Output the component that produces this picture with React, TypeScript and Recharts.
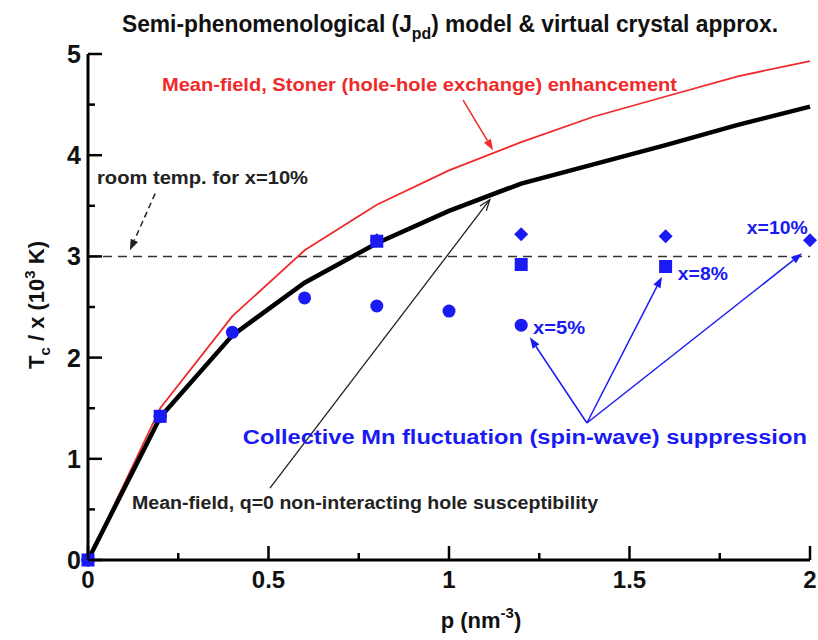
import { ScatterChart, Scatter, XAxis, YAxis, ReferenceLine, ReferenceDot } from "recharts";

// p grid for the two mean-field curves (nm^-3)
const P_GRID = [0, 0.2, 0.4, 0.6, 0.8, 1.0, 1.2, 1.4, 1.6, 1.8, 2.0];
const MEAN_FIELD = [0, 1.41, 2.22, 2.74, 3.13, 3.45, 3.72, 3.91, 4.1, 4.3, 4.48];
const STONER = [0, 1.5, 2.41, 3.06, 3.51, 3.85, 4.13, 4.38, 4.58, 4.78, 4.93];

// spin-wave suppressed points
const X5_P = [0, 0.2, 0.4, 0.6, 0.8, 1.0, 1.2];
const X5_TC = [0, 1.42, 2.25, 2.59, 2.51, 2.46, 2.32];
const X8_P = [0, 0.2, 0.8, 1.2, 1.6];
const X8_TC = [0, 1.42, 3.15, 2.92, 2.9];
const X10_P = [0, 0.2, 0.8, 1.2, 1.6, 2.0];
const X10_TC = [0, 1.42, 3.16, 3.22, 3.2, 3.16];

const X_TICKS = [0, 0.25, 0.5, 0.75, 1, 1.25, 1.5, 1.75, 2];
const Y_TICKS = [0, 0.5, 1, 1.5, 2, 2.5, 3, 3.5, 4, 4.5, 5];
const X_LABELED = [0, 0.5, 1, 1.5, 2];
const Y_LABELED = [0, 1, 2, 3, 4, 5];
const ROOM_TEMP = 3;

const FONT = '"Liberation Sans", Arial, Helvetica, sans-serif';
const TITLE_FONT = '"Liberation Sans Narrow", "Liberation Sans", Arial, sans-serif';
const BLUE = "#1a1af2";
const RED = "#f02a2a";

const toPoints = (ps: number[], vs: number[]) => ps.map((p, i) => ({ p, v: vs[i] }));

// annotation texts: anchor (data coords), text, colour, target width
const NOTES = [
  { p: 0.205, v: 4.634, text: "Mean-field, Stoner (hole-hole exchange) enhancement", color: RED, len: 515, size: 19 },
  { p: 0.025, v: 3.715, text: "room temp. for x=10%", color: "#222", len: 211, size: 18 },
  { p: 0.122, v: 0.504, text: "Mean-field, q=0 non-interacting hole susceptibility", color: "#222", len: 466, size: 18 },
  { p: 0.429, v: 1.146, text: "Collective Mn fluctuation (spin-wave) suppression", color: BLUE, len: 564, size: 19.5 },
  { p: 1.233, v: 2.233, text: "x=5%", color: BLUE, len: 52, size: 18 },
  { p: 1.634, v: 2.767, text: "x=8%", color: BLUE, len: 50, size: 18 },
  { p: 1.825, v: 3.221, text: "x=10%", color: BLUE, len: 61, size: 18 },
];

// arrows: from -> to in data coords
const ARROWS = [
  { from: [1.039, 4.545], to: [1.122, 4.05], color: RED, w: 1.5, dash: undefined, open: false },
  { from: [0.504, 0.71], to: [1.113, 3.56], color: "#222", w: 1.3, dash: undefined, open: true },
  { from: [0.186, 3.62], to: [0.116, 3.06], color: "#222", w: 1.5, dash: "6 4", open: false },
  { from: [1.382, 1.354], to: [1.224, 2.2], color: BLUE, w: 1.5, dash: undefined, open: false },
  { from: [1.382, 1.354], to: [1.59, 2.8], color: BLUE, w: 1.5, dash: undefined, open: false },
  { from: [1.382, 1.354], to: [1.978, 3.03], color: BLUE, w: 1.5, dash: undefined, open: false },
];

const makeArrow = (color: string, w: number, dash?: string, open?: boolean) => (props: any) => {
  const { x1, y1, x2, y2 } = props;
  const a = Math.atan2(y2 - y1, x2 - x1);
  const L = 11;
  const W = 4;
  const bx = x2 - L * Math.cos(a);
  const by = y2 - L * Math.sin(a);
  const lx = bx + W * Math.sin(a);
  const ly = by - W * Math.cos(a);
  const rx = bx - W * Math.sin(a);
  const ry = by + W * Math.cos(a);
  return (
    <g>
      <line x1={x1} y1={y1} x2={open ? x2 : bx} y2={open ? y2 : by} stroke={color} strokeWidth={w} strokeDasharray={dash} />
      {open ? (
        <polyline points={`${lx},${ly} ${x2},${y2} ${rx},${ry}`} fill="none" stroke={color} strokeWidth={w} />
      ) : (
        <polygon points={`${lx},${ly} ${x2},${y2} ${rx},${ry}`} fill={color} />
      )}
    </g>
  );
};

const makeNote = (text: string, color: string, len: number, size: number) => (props: any) => (
  <text
    x={props.cx}
    y={props.cy}
    fill={color}
    fontFamily={FONT}
    fontWeight="bold"
    fontSize={size}
    textLength={len}
    lengthAdjust="spacingAndGlyphs"
  >
    {text}
  </text>
);

const BottomTick = (props: any) => {
  const { x, y, payload } = props;
  const major = X_LABELED.includes(payload.value);
  return (
    <g>
      <line x1={x} y1={y} x2={x} y2={y - (major ? 14 : 7)} stroke="#000" strokeWidth={2.5} />
      {major && (
        <text x={x} y={y + 28} textAnchor="middle" fontFamily={FONT} fontWeight="bold" fontSize={24} fill="#111">
          {String(payload.value)}
        </text>
      )}
    </g>
  );
};

const TopTick = (props: any) => {
  const { x, y, payload } = props;
  const major = X_LABELED.includes(payload.value);
  return <line x1={x} y1={y} x2={x} y2={y + (major ? 14 : 7)} stroke="#000" strokeWidth={2.5} />;
};

const LeftTick = (props: any) => {
  const { x, y, payload } = props;
  const major = Y_LABELED.includes(payload.value);
  return (
    <g>
      <line x1={x} y1={y} x2={x + (major ? 14 : 7)} y2={y} stroke="#000" strokeWidth={2.5} />
      {major && (
        <text x={x - 7} y={y + 9} textAnchor="end" fontFamily={FONT} fontWeight="bold" fontSize={25} fill="#111">
          {String(payload.value)}
        </text>
      )}
    </g>
  );
};

const RightTick = (props: any) => {
  const { x, y, payload } = props;
  const major = Y_LABELED.includes(payload.value);
  return <line x1={x} y1={y} x2={x - (major ? 14 : 7)} y2={y} stroke="#000" strokeWidth={2.5} />;
};

const YLabel = (props: any) => {
  const vb = props.viewBox;
  const cx = 44;
  const cy = vb.y + vb.height / 2 - 2;
  return (
    <text
      x={cx}
      y={cy}
      transform={`rotate(-90, ${cx}, ${cy})`}
      textAnchor="middle"
      fontFamily={FONT}
      fontWeight="bold"
      fontSize={22}
      fill="#111"
    >
      T<tspan dy={6} fontSize={15}>c</tspan>
      <tspan dy={-6}> / x (10</tspan>
      <tspan dy={-9} fontSize={15}>3</tspan>
      <tspan dy={9}> K)</tspan>
    </text>
  );
};

const XLabel = (props: any) => {
  const vb = props.viewBox;
  return (
    <text x={vb.x + 393} y={628} textAnchor="middle" fontFamily={FONT} fontWeight="bold" fontSize={22} fill="#111">
      p (nm<tspan dy={-10} fontSize={15}>-3</tspan>
      <tspan dy={10}>)</tspan>
    </text>
  );
};

const circleShape = (props: any) => <circle cx={props.cx} cy={props.cy} r={6.5} fill={BLUE} />;
const squareShape = (props: any) => (
  <rect x={props.cx - 6.5} y={props.cy - 6.5} width={13} height={13} fill={BLUE} />
);
const diamondShape = (props: any) => (
  <polygon
    points={`${props.cx},${props.cy - 7} ${props.cx + 7},${props.cy} ${props.cx},${props.cy + 7} ${props.cx - 7},${props.cy}`}
    fill={BLUE}
  />
);
const noShape = () => <g />;

export default function App() {
  const meanField = toPoints(P_GRID, MEAN_FIELD);
  const stoner = toPoints(P_GRID, STONER);
  return (
    <div style={{ position: "absolute", left: 0, top: 0, width: 818, height: 640, background: "#fff" }}>
      <svg width={818} height={50} style={{ position: "absolute", left: 0, top: 0 }}>
        <text x={122} y={32} fontFamily={TITLE_FONT} fontWeight="bold" fontSize={23} fill="#111" textLength={656} lengthAdjust="spacingAndGlyphs">
          Semi-phenomenological (J<tspan dy={7} fontSize={16}>pd</tspan>
          <tspan dy={-7}>) model &amp; virtual crystal approx.</tspan>
        </text>
      </svg>
      <ScatterChart width={818} height={640} margin={{ top: 54, right: 8, bottom: 0, left: 0 }}>
        <XAxis
          dataKey="p"
          type="number"
          domain={[0, 2]}
          ticks={X_TICKS}
          interval={0}
          height={80}
          tickSize={0}
          tickMargin={0}
          tickLine={false}
          axisLine={{ stroke: "#000", strokeWidth: 3 }}
          tick={BottomTick}
          label={<XLabel />}
        />
        <XAxis
          xAxisId="top"
          orientation="top"
          dataKey="p"
          type="number"
          domain={[0, 2]}
          allowDataOverflow
          ticks={X_TICKS}
          interval={0}
          height={0}
          tickSize={0}
          tickMargin={0}
          tickLine={false}
          axisLine={{ stroke: "#000", strokeWidth: 3 }}
          tick={TopTick}
        />
        <YAxis
          dataKey="v"
          type="number"
          domain={[0, 5]}
          ticks={Y_TICKS}
          interval={0}
          width={88}
          tickSize={0}
          tickMargin={0}
          tickLine={false}
          axisLine={{ stroke: "#000", strokeWidth: 3 }}
          tick={LeftTick}
          label={<YLabel />}
        />
        <YAxis
          yAxisId="right"
          orientation="right"
          dataKey="v"
          type="number"
          domain={[0, 5]}
          allowDataOverflow
          ticks={Y_TICKS}
          interval={0}
          width={0}
          tickSize={0}
          tickMargin={0}
          tickLine={false}
          axisLine={{ stroke: "#000", strokeWidth: 3 }}
          tick={RightTick}
        />
        <ReferenceLine y={ROOM_TEMP} stroke="#333" strokeWidth={1.5} strokeDasharray="9 6" />
        <Scatter
          data={stoner}
          line={{ stroke: RED, strokeWidth: 1.8 }}
          lineJointType="linear"
          shape={noShape}
          isAnimationActive={false}
        />
        <Scatter
          data={meanField}
          line={{ stroke: "#000", strokeWidth: 4.5 }}
          lineJointType="linear"
          shape={noShape}
          isAnimationActive={false}
        />
        <Scatter data={toPoints(X5_P, X5_TC)} shape={circleShape} isAnimationActive={false} />
        <Scatter data={toPoints(X8_P, X8_TC)} shape={squareShape} isAnimationActive={false} />
        <Scatter data={toPoints(X10_P, X10_TC)} shape={diamondShape} isAnimationActive={false} />
        {ARROWS.map((a, i) => (
          <ReferenceLine
            key={`arrow-${i}`}
            segment={[
              { x: a.from[0], y: a.from[1] },
              { x: a.to[0], y: a.to[1] },
            ]}
            shape={makeArrow(a.color, a.w, a.dash, a.open)}
          />
        ))}
        {NOTES.map((n, i) => (
          <ReferenceDot key={`note-${i}`} x={n.p} y={n.v} r={0} shape={makeNote(n.text, n.color, n.len, n.size)} />
        ))}
      </ScatterChart>
    </div>
  );
}
